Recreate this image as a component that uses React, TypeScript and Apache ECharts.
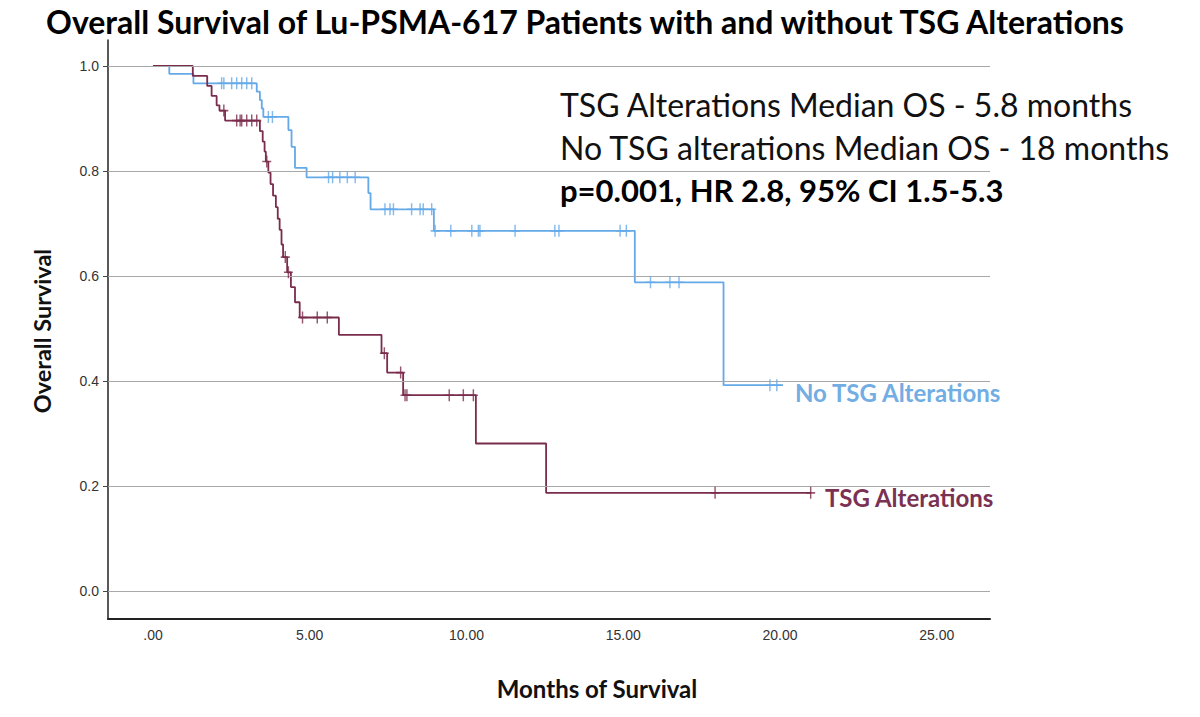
import React, { useEffect, useRef } from "react";
import * as echarts from "echarts";

const titleText = "Overall Survival of Lu-PSMA-617 Patients with and without TSG Alterations";
const annotationLines = [
  "TSG Alterations Median OS - 5.8 months",
  "No TSG alterations Median OS - 18 months",
  "p=0.001, HR 2.8, 95% CI 1.5-5.3",
];
const xTickValues = [0, 5, 10, 15, 20, 25];
const yTickValues = [0, 0.2, 0.4, 0.6, 0.8, 1.0];

// No TSG alterations (blue)
const blueTimes = [0, 0.52, 1.29, 3.31, 3.41, 3.47, 3.52, 4.32, 4.42, 4.53, 4.9, 6.87, 6.94, 8.96, 15.37, 18.2];
const blueSurv = [1.0, 0.985, 0.967, 0.951, 0.935, 0.919, 0.903, 0.878, 0.846, 0.806, 0.788, 0.758, 0.727, 0.686, 0.588, 0.392];
const blueEnd = 20.1;
const blueCensor = [2.19, 2.26, 2.51, 2.67, 2.83, 2.99, 3.15, 3.68, 3.81, 5.6, 5.73, 5.96, 6.2, 6.45, 7.4, 7.56, 7.67, 8.25, 8.52, 8.62, 8.89, 9.0, 9.5, 10.17, 10.38, 10.43, 11.55, 12.82, 12.95, 14.9, 15.1, 15.87, 16.49, 16.78, 19.68, 19.9];

// TSG alterations (maroon)
const tsgTimes = [0, 1.27, 1.73, 1.87, 2.03, 2.12, 2.3, 3.41, 3.5, 3.56, 3.6, 3.68, 3.75, 3.83, 3.92, 3.98, 4.04, 4.1, 4.15, 4.28, 4.4, 4.53, 4.68, 5.93, 7.29, 7.47, 7.98, 10.3, 12.54];
const tsgSurv = [1.0, 0.981, 0.962, 0.943, 0.925, 0.915, 0.896, 0.876, 0.856, 0.837, 0.818, 0.797, 0.775, 0.753, 0.731, 0.709, 0.688, 0.66, 0.636, 0.607, 0.579, 0.55, 0.521, 0.488, 0.453, 0.416, 0.373, 0.281, 0.187];
const tsgEnd = 21.0;
const tsgCensor = [2.26, 2.67, 2.78, 2.83, 2.99, 3.15, 3.31, 3.63, 4.22, 4.32, 4.77, 5.24, 5.56, 7.38, 7.9, 8.04, 8.1, 9.45, 9.9, 10.22, 17.93, 20.98];

const BLUE = "#64a9e8";
const MAROON = "#7a2c4c";
const PLUS = "path://M4.2,0H5.8V5.2H10V6.8H5.8V12H4.2V6.8H0V5.2H4.2Z";

function stepData(times: number[], surv: number[], end: number) {
  const d = times.map((t, i) => [t, surv[i]]);
  d.push([end, surv[surv.length - 1]]);
  return d;
}
function survAt(times: number[], surv: number[], t: number) {
  let v = surv[0];
  for (let i = 0; i < times.length; i++) if (times[i] <= t) v = surv[i];
  return v;
}

export default function App() {
  const ref = useRef<HTMLDivElement>(null);
  useEffect(() => {
    if (!ref.current) return;
    const chart = echarts.init(ref.current, null, { renderer: "svg" });
    const tickFont = "'Liberation Sans Narrow', 'Liberation Sans', Arial, sans-serif";
    const font = "Lato, 'Open Sans', sans-serif";
    chart.setOption({
      animation: false,
      backgroundColor: "#ffffff",
      grid: { left: 108, right: 210, top: 40, bottom: 98, containLabel: false },
      xAxis: {
        type: "value",
        min: -1.435,
        max: 26.7,
        axisLine: { show: true, onZero: false, lineStyle: { color: "#222", width: 2 } },
        axisTick: { show: false },
        splitLine: { show: false },
        axisLabel: {
          customValues: xTickValues,
          formatter: (v: number) => (v === 0 ? ".00" : v.toFixed(2)),
          color: "#333",
          fontSize: 14,
          fontFamily: tickFont,
          margin: 9,
        },
      },
      yAxis: {
        type: "value",
        min: -0.0533,
        max: 1.0495,
        axisLine: { show: true, onZero: false, lineStyle: { color: "#222", width: 1.5 } },
        axisTick: { show: true, customValues: yTickValues, length: 5, lineStyle: { color: "#444" } },
        splitLine: { show: false },
        axisLabel: {
          customValues: yTickValues,
          formatter: (v: number) => v.toFixed(1),
          color: "#333",
          fontSize: 14,
          fontFamily: tickFont,
          margin: 9,
        },
      },
      series: [
        {
          type: "line",
          name: "grid",
          data: [],
          silent: true,
          markLine: {
            silent: true,
            symbol: "none",
            label: { show: false },
            lineStyle: { color: "#a8a8a8", width: 1, type: "solid" },
            data: yTickValues.map((v) => ({ yAxis: v })),
          },
        },
        {
          type: "line",
          name: "No TSG Alterations",
          step: "end",
          showSymbol: false,
          data: stepData(blueTimes, blueSurv, blueEnd),
          lineStyle: { color: BLUE, width: 1.8 },
          itemStyle: { color: BLUE },
          z: 3,
        },
        {
          type: "line",
          name: "TSG Alterations",
          step: "end",
          showSymbol: false,
          data: stepData(tsgTimes, tsgSurv, tsgEnd),
          lineStyle: { color: MAROON, width: 1.8 },
          itemStyle: { color: MAROON },
          z: 4,
        },
        {
          type: "scatter",
          name: "No TSG censored",
          symbol: PLUS,
          symbolSize: [9, 12],
          data: blueCensor.map((t) => [t, survAt(blueTimes, blueSurv, t)]),
          itemStyle: { color: BLUE },
          z: 5,
        },
        {
          type: "scatter",
          name: "TSG censored",
          symbol: PLUS,
          symbolSize: [9, 12],
          data: tsgCensor.map((t) => [t, survAt(tsgTimes, tsgSurv, t)]),
          itemStyle: { color: MAROON },
          z: 6,
        },
      ],
      graphic: [
        {
          type: "text",
          x: 585,
          y: 21,
          style: {
            text: titleText,
            fontFamily: font,
            fontWeight: "bold",
            fontSize: 32,
            fill: "#000",
            textAlign: "center",
            textVerticalAlign: "middle",
          },
        },
        {
          type: "text",
          x: 560,
          y: 104,
          style: { text: annotationLines[0], fontFamily: font, fontSize: 32, fill: "#111", textVerticalAlign: "middle" },
        },
        {
          type: "text",
          x: 560,
          y: 147,
          style: { text: annotationLines[1], fontFamily: font, fontSize: 32, fill: "#111", textVerticalAlign: "middle" },
        },
        {
          type: "text",
          x: 560,
          y: 190,
          style: { text: annotationLines[2], fontFamily: font, fontWeight: "bold", fontSize: 31, fill: "#000", textVerticalAlign: "middle" },
        },
        {
          type: "text",
          x: 795,
          y: 392,
          style: { text: "No TSG Alterations", fontFamily: font, fontWeight: "bold", fontSize: 24, fill: "#72ade3", textVerticalAlign: "middle" },
        },
        {
          type: "text",
          x: 825,
          y: 497,
          style: { text: "TSG Alterations", fontFamily: font, fontWeight: "bold", fontSize: 24, fill: "#7b3152", textVerticalAlign: "middle" },
        },
        {
          type: "text",
          x: 597,
          y: 688,
          style: { text: "Months of Survival", fontFamily: font, fontWeight: "bold", fontSize: 24, fill: "#111", textAlign: "center", textVerticalAlign: "middle" },
        },
        {
          type: "text",
          x: 42,
          y: 331,
          rotation: Math.PI / 2,
          style: { text: "Overall Survival", fontFamily: font, fontWeight: "bold", fontSize: 23.5, fill: "#111", textAlign: "center", textVerticalAlign: "middle" },
        },
      ],
    });
    return () => chart.dispose();
  }, []);
  return (
    <div
      ref={ref}
      style={{ position: "fixed", left: 0, top: 0, width: 1200, height: 717, background: "#fff" }}
    />
  );
}
